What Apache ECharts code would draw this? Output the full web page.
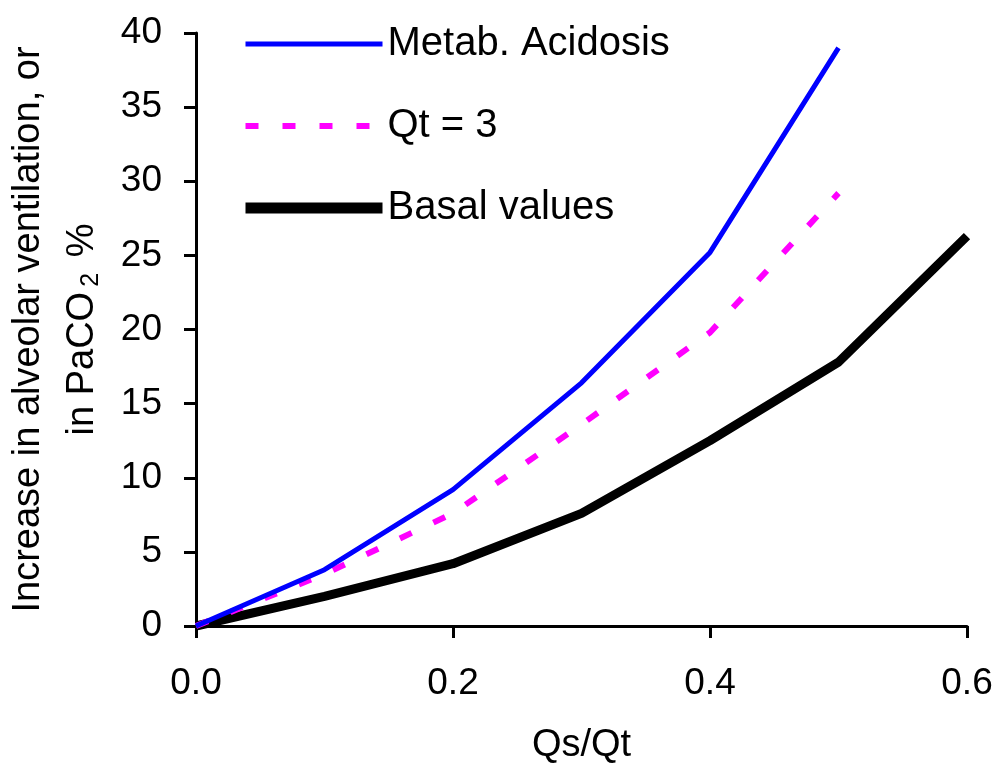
<!DOCTYPE html>
<html>
<head>
<meta charset="utf-8">
<script src="https://cdn.jsdelivr.net/npm/echarts@6/dist/echarts.min.js"></script>
<style>html,body{margin:0;padding:0;background:#fff}#c{width:1004px;height:770px}</style>
</head>
<body>
<div id="c"></div>
<script>
var xValues = [0, 0.1, 0.2, 0.3, 0.4, 0.5, 0.6];
var metabAcidosis = [0, 3.8, 9.2, 16.4, 25.2, 39.0];
var qt3 = [0, 3.5, 7.6, 13.6, 19.8, 29.2];
var basal = [0, 2.0, 4.2, 7.6, 12.5, 17.8, 26.3];
var seriesNames = ['Metab. Acidosis', 'Qt = 3', 'Basal values'];

function pairs(vals) { return vals.map(function (v, i) { return [xValues[i], v]; }); }

var FONT = 'Liberation Sans';
var chart = echarts.init(document.getElementById('c'), null, {renderer: 'canvas'});
chart.setOption({
  animation: false,
  backgroundColor: '#ffffff',
  grid: {left: 196, right: 37, top: 33, bottom: 144, containLabel: false, outerBoundsMode: 'none'},
  legend: {
    orient: 'vertical',
    left: 240, top: 24, padding: 0,
    itemWidth: 137, itemHeight: 14, itemGap: 42,
    textStyle: {fontFamily: FONT, fontSize: 40, color: '#000', lineHeight: 40},
    data: [
      {name: seriesNames[0], lineStyle: {width: 5}, itemStyle: {opacity: 0}},
      {name: seriesNames[1], lineStyle: {width: 6}, itemStyle: {opacity: 0}},
      {name: seriesNames[2], lineStyle: {width: 11}, itemStyle: {opacity: 0}}
    ]
  },
  xAxis: {
    type: 'value', min: 0, max: 0.6, interval: 0.2,
    name: 'Qs/Qt', nameLocation: 'middle', nameGap: 101,
    nameTextStyle: {fontFamily: FONT, fontSize: 38, color: '#000'},
    axisLine: {show: true, lineStyle: {color: '#000', width: 3}},
    axisTick: {show: true, length: 12, lineStyle: {color: '#000', width: 3}},
    axisLabel: {fontFamily: FONT, fontSize: 37, color: '#000', margin: 39,
      formatter: function (v) { return v.toFixed(1); }},
    splitLine: {show: false}
  },
  yAxis: {
    type: 'value', min: 0, max: 40, interval: 5,
    name: 'Increase in alveolar ventilation, or\nin PaCO{sub|2} %',
    nameLocation: 'middle', nameGap: 86,
    nameTextStyle: {fontFamily: FONT, fontSize: 38, color: '#000', lineHeight: 54,
      rich: {sub: {fontFamily: FONT, fontSize: 25, color: '#000', padding: [16, 5, 0, 5]}}},
    axisLine: {show: true, lineStyle: {color: '#000', width: 3}},
    axisTick: {show: true, length: 12, lineStyle: {color: '#000', width: 3}},
    axisLabel: {fontFamily: FONT, fontSize: 37, color: '#000', margin: 34},
    splitLine: {show: false}
  },
  series: [
    {name: seriesNames[2], type: 'line', data: pairs(basal), symbol: 'none',
      lineStyle: {color: '#000000', width: 9}, itemStyle: {color: '#000000'}, z: 2},
    {name: seriesNames[1], type: 'line', data: pairs(qt3), symbol: 'none',
      lineStyle: {color: '#ff00ff', width: 6, type: [13, 24]}, itemStyle: {color: '#ff00ff'}, z: 3},
    {name: seriesNames[0], type: 'line', data: pairs(metabAcidosis), symbol: 'none',
      lineStyle: {color: '#0000ff', width: 5}, itemStyle: {color: '#0000ff'}, z: 4}
  ]
});
</script>
</body>
</html>
